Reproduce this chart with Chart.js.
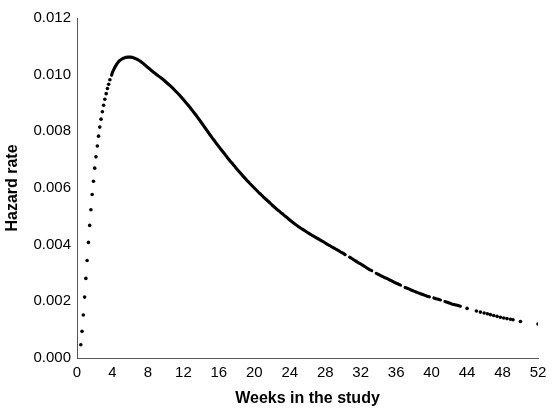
<!DOCTYPE html>
<html>
<head>
<meta charset="utf-8">
<script src="https://cdn.jsdelivr.net/npm/chart.js@4.4.1/dist/chart.umd.min.js"></script>
<style>
  html, body { margin: 0; padding: 0; background: #ffffff; }
  #wrap { width: 557px; height: 415px; position: relative; }
</style>
</head>
<body>
<div id="wrap"><canvas id="c" width="557" height="415"></canvas></div>
<script>
// Early, clearly separated daily points (weeks, hazard rate)
const earlyWeeks = [0.43, 0.57, 0.71, 0.86, 1.00, 1.14, 1.29, 1.43,
  1.57, 1.71, 1.86, 2.00, 2.14, 2.29, 2.43, 2.57,
  2.71, 2.86, 3.00, 3.14, 3.29, 3.43, 3.57, 3.71];
const earlyHazard = [0.00047, 0.00094, 0.00152, 0.00215, 0.00281, 0.00344, 0.00408, 0.00468,
  0.00523, 0.00577, 0.00624, 0.00670, 0.00710, 0.00748, 0.00783, 0.00815,
  0.00843, 0.00869, 0.00892, 0.00913, 0.00933, 0.00951, 0.00966, 0.00982];

// Dense part of the curve (points so close they merge).
// null = short gap visible in the reference.
const curveWeeks = [
  3.90, 4.00, 4.25, 4.50, 4.75, 5.00, 5.25, 5.50,
  5.75, 6.00, 6.25, 6.50, 6.75, 7.00, 7.25, 7.50,
  7.75, 8.00, 8.25, 8.50, 8.75, 9.00, 9.25, 9.50,
  9.75, 10.00, 10.25, 10.50, 10.75, 11.00, 11.25, 11.50,
  11.75, 12.00, 12.25, 12.50, 12.75, 13.00, 13.25, 13.50,
  13.75, 14.00, 14.25, 14.50, 14.75, 15.00, 15.25, 15.50,
  15.75, 16.00, 16.25, 16.50, 16.75, 17.00, 17.25, 17.50,
  17.75, 18.00, 18.25, 18.50, 18.75, 19.00, 19.25, 19.50,
  19.75, 20.00, 20.25, 20.50, 20.75, 21.00, 21.25, 21.50,
  21.75, 22.00, 22.25, 22.50, 22.75, 23.00, 23.25, 23.50,
  23.75, 24.00, 24.25, 24.50, 24.75, 25.00, 25.25, 25.50,
  25.75, 26.00, 26.25, 26.50, 26.75, 27.00, 27.25, 27.50,
  27.75, 28.00, 28.25, 28.50, 28.75, 29.00, 29.25, 29.50,
  29.75, 30.00, 30.25, 30.50, 30.75, 31.00, 31.25, 31.50,
  31.75, 32.00, 32.25, 32.50, 32.75, 33.00, 33.25, 33.50,
  33.75, 34.00, 34.25, 34.50, 34.75, 35.00, 35.25, 35.50,
  35.75, 36.00, 36.25, 36.50, 36.75, 37.00, 37.25, 37.50,
  37.75, 38.00, 38.25, 38.50, 38.75, 39.00, 39.25, 39.50,
  39.75, 40.00, 40.25, 40.50, 40.75, 41.00, 41.25, 41.50,
  41.75, 42.00, 42.25, 42.50, 42.75, 43.00, 43.25];
const curveHazard = [
  0.00998, 0.01008, 0.01025, 0.01038, 0.01048, 0.01054, 0.01058, 0.01061,
  0.01062, 0.01062, 0.01061, 0.01058, 0.01055, 0.01050, 0.01045, 0.01039,
  0.01032, 0.01025, 0.01019, 0.01012, 0.01006, 0.01000, 0.00994, 0.00988,
  0.00982, 0.00975, 0.00968, 0.00961, 0.00954, 0.00946, 0.00938, 0.00930,
  0.00921, 0.00912, 0.00903, 0.00894, 0.00884, 0.00874, 0.00864, 0.00854,
  0.00843, 0.00832, 0.00821, 0.00810, 0.00799, 0.00788, 0.00777, 0.00767,
  0.00756, 0.00746, 0.00736, 0.00726, 0.00716, 0.00706, 0.00696, 0.00687,
  0.00678, 0.00668, 0.00659, 0.00650, 0.00641, 0.00633, 0.00624, 0.00616,
  0.00608, 0.00600, 0.00592, 0.00584, 0.00577, 0.00569, 0.00562, 0.00555,
  0.00548, 0.00540, 0.00533, 0.00526, 0.00520, 0.00513, 0.00507, 0.00500,
  0.00494, 0.00487, 0.00481, 0.00475, 0.00469, 0.00463, 0.00458, 0.00453,
  0.00448, 0.00443, 0.00438, 0.00433, 0.00429, 0.00424, 0.00420, 0.00415,
  0.00411, 0.00406, 0.00401, 0.00397, 0.00392, 0.00388, 0.00383, 0.00379,
  0.00374, 0.00370, 0.00365, null, 0.00356, 0.00351, 0.00346, 0.00341,
  0.00336, 0.00332, 0.00327, 0.00322, 0.00317, 0.00312, 0.00308, null,
  0.00299, 0.00295, 0.00291, 0.00287, 0.00283, 0.00280, 0.00276, 0.00272,
  0.00268, 0.00264, 0.00261, 0.00257, null, 0.00249, 0.00246, 0.00243,
  0.00239, 0.00236, 0.00233, 0.00230, 0.00227, 0.00224, 0.00221, 0.00218,
  0.00216, null, 0.00212, 0.00209, 0.00207, 0.00205, null, 0.00199,
  0.00197, 0.00194, 0.00191, 0.00189, 0.00187, 0.00185, 0.00183];

// Sparse tail points
const tailWeeks = [44.00, 45.05, 45.50, 45.92, 46.29, 46.63, 47.00, 47.38,
  47.76, 48.13, 48.50, 48.89, 49.18, 50.02, 52.00];
const tailHazard = [0.00175, 0.00166, 0.00162, 0.00159, 0.00156, 0.00153, 0.00150, 0.00147,
  0.00144, 0.00141, 0.00139, 0.00137, 0.00135, 0.00129, 0.00120];

// Axis settings
const xTitle = 'Weeks in the study';
const yTitle = 'Hazard rate';
const xMin = 0, xMax = 52, xStep = 4;
const yMin = 0, yMax = 0.012, yStep = 0.002;

function toPoints(xs, ys) {
  const out = [];
  for (let i = 0; i < xs.length; i++) out.push({ x: xs[i], y: ys[i] });
  return out;
}

const FONT = "'Liberation Sans', Arial, sans-serif";
const DOT = {
  backgroundColor: '#000000',
  borderColor: '#000000',
  borderWidth: 0,
  pointRadius: 1.8,
  pointHoverRadius: 1.8,
  showLine: false
};

new Chart(document.getElementById('c'), {
  type: 'scatter',
  data: {
    datasets: [
      Object.assign({ label: 'early', data: toPoints(earlyWeeks, earlyHazard) }, DOT),
      {
        label: 'curve',
        data: toPoints(curveWeeks, curveHazard),
        showLine: true,
        spanGaps: false,
        borderColor: '#000000',
        backgroundColor: '#000000',
        borderWidth: 3.1,
        borderCapStyle: 'round',
        borderJoinStyle: 'round',
        tension: 0,
        pointRadius: 0,
        pointHoverRadius: 0
      },
      Object.assign({ label: 'tail', data: toPoints(tailWeeks, tailHazard) }, DOT)
    ]
  },
  options: {
    responsive: false,
    animation: false,
    devicePixelRatio: 1,
    layout: { padding: { top: 18, right: 19, bottom: 0, left: 0 } },
    plugins: { legend: { display: false }, tooltip: { enabled: false } },
    scales: {
      x: {
        type: 'linear',
        min: xMin, max: xMax,
        grid: { display: false, drawTicks: false },
        border: { display: true, color: '#555555', width: 1 },
        ticks: {
          stepSize: xStep, padding: 6, color: '#000000',
          font: { family: FONT, size: 15 },
          maxRotation: 0, autoSkip: false
        },
        title: {
          display: true, text: xTitle, color: '#000000',
          font: { family: FONT, size: 16, weight: 'bold' },
          padding: { top: 0, bottom: 7 }
        },
        afterFit: function (s) { s.height = 57; }
      },
      y: {
        type: 'linear',
        min: yMin, max: yMax,
        grid: { display: false, drawTicks: false },
        border: { display: true, color: '#555555', width: 1 },
        ticks: {
          stepSize: yStep, padding: 6, color: '#000000',
          font: { family: FONT, size: 15 },
          callback: function (v) { return Number(v).toFixed(3); }
        },
        title: {
          display: true, text: yTitle, color: '#000000',
          font: { family: FONT, size: 16, weight: 'bold' },
          padding: { top: 3, bottom: 0 }
        },
        afterFit: function (s) { s.width = 77; }
      }
    }
  }
});
</script>
</body>
</html>
